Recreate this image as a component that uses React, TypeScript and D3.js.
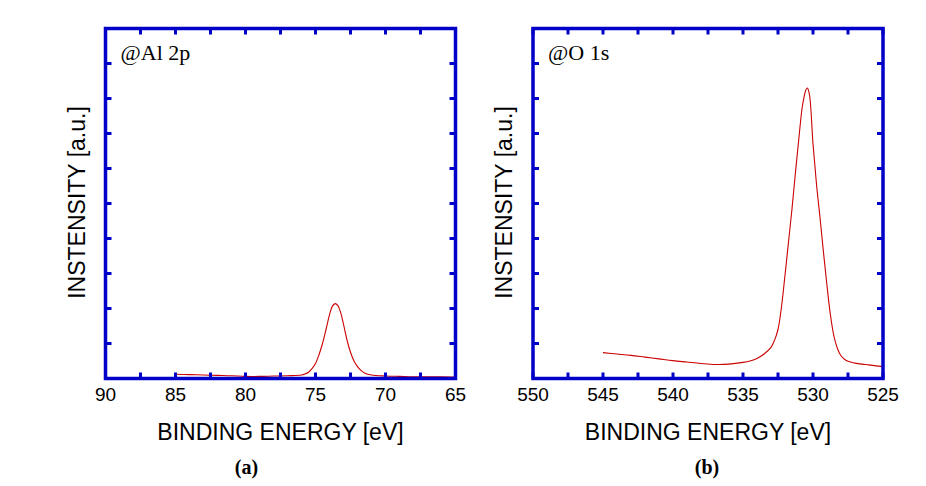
import React from 'react';
import * as d3 from 'd3';

// Al 2p spectrum
const alEnergy = [85, 84, 83, 82, 81, 80, 79, 78, 77, 76, 75.75, 75.5, 75.25, 75, 74.75, 74.5, 74.25, 74, 73.8, 73.6, 73.4, 73.2, 73, 72.75, 72.5, 72.25, 72, 71.75, 71.5, 71, 70, 69, 68, 67, 66, 65];
const alIntensity = [1.2, 1.1, 1.0, 0.9, 0.8, 0.6, 0.6, 0.7, 0.8, 1.0, 1.3, 1.8, 2.8, 4.3, 6.8, 10, 14, 18.2, 20.6, 21.4, 20.8, 18.8, 15.5, 11, 7.5, 5, 3.4, 2.3, 1.6, 1.0, 0.7, 0.6, 0.5, 0.5, 0.5, 0.4];

// O 1s spectrum
const oEnergy = [545, 544, 543, 542, 541, 540, 539, 538, 537, 536, 535, 534.5, 534, 533.5, 533, 532.75, 532.5, 532.25, 532, 531.75, 531.5, 531.25, 531, 530.75, 530.5, 530.4, 530.25, 530, 529.75, 529.5, 529.25, 529, 528.75, 528.5, 528.25, 528, 527.75, 527.5, 527, 526.5, 526, 525.5, 525];
const oIntensity = [7.4, 7.0, 6.6, 6.1, 5.6, 5.1, 4.7, 4.3, 4.0, 4.1, 4.6, 5.0, 5.7, 7.0, 8.9, 10.9, 14, 20.5, 29.5, 39, 48.5, 59, 69, 78, 82.5, 83, 81, 67, 55.5, 46, 36, 26.5, 18, 12, 8.5, 6.5, 5.5, 4.9, 4.4, 4.1, 3.9, 3.6, 3.4];

const alTickLabels = [90, 85, 80, 75, 70, 65];
const alMinorTicks = [90, 87.5, 85, 82.5, 80, 77.5, 75, 72.5, 70, 67.5, 65];
const oTickLabels = [550, 545, 540, 535, 530, 525];
const oMinorTicks = [550, 547.5, 545, 542.5, 540, 537.5, 535, 532.5, 530, 527.5, 525];
const yTicks = [10, 20, 30, 40, 50, 60, 70, 80, 90];

const BLUE = '#0000c8';
const RED = '#cc0000';
const W = 350;
const H = 350;
const TICK = 6;

type PanelProps = {
  left: number;
  top: number;
  domain: [number, number];
  energy: number[];
  intensity: number[];
  tickLabels: number[];
  minorTicks: number[];
  tag: string;
  caption: string;
  captionX: number;
};

const Panel = ({ left, top, domain, energy, intensity, tickLabels, minorTicks, tag, caption, captionX }: PanelProps) => {
  const x = d3.scaleLinear().domain(domain).range([0, W]);
  const y = d3.scaleLinear().domain([0, 100]).range([H, 0]);
  const pts = energy.map((e, i) => [e, intensity[i]] as [number, number]);
  const line = d3.line<[number, number]>()
    .x(d => x(d[0]))
    .y(d => y(d[1]))
    .curve(d3.curveCatmullRom.alpha(0.5));

  return (
    <g transform={`translate(${left},${top})`}>
      <path d={line(pts) || ''} fill='none' stroke={RED} strokeWidth={1.1} />
      {minorTicks.map(t => (
        <g key={'x' + t} stroke={BLUE} strokeWidth={3}>
          <line x1={x(t)} x2={x(t)} y1={H} y2={H - TICK} />
          <line x1={x(t)} x2={x(t)} y1={0} y2={TICK} />
        </g>
      ))}
      {yTicks.map(t => (
        <g key={'y' + t} stroke={BLUE} strokeWidth={3}>
          <line x1={0} x2={TICK} y1={y(t)} y2={y(t)} />
          <line x1={W} x2={W - TICK} y1={y(t)} y2={y(t)} />
        </g>
      ))}
      <rect x={0} y={0} width={W} height={H} fill='none' stroke={BLUE} strokeWidth={3.5} />
      {tickLabels.map(t => (
        <text key={'l' + t} x={x(t)} y={H + 22} textAnchor='middle'
          fontFamily='Liberation Sans, Arial, sans-serif' fontSize={19}>{t}</text>
      ))}
      <text x={15} y={31} fontFamily='Liberation Serif, Times New Roman, serif' fontSize={22}>{tag}</text>
      <text x={W / 2} y={H + 61} textAnchor='middle'
        fontFamily='Liberation Sans, Arial, sans-serif' fontSize={23}>BINDING ENERGY [eV]</text>
      <text transform={`translate(-21,${H / 2 - 1}) rotate(-90)`} textAnchor='middle'
        fontFamily='Liberation Sans, Arial, sans-serif' fontSize={23}>INSTENSITY [a.u.]</text>
      <text x={captionX} y={H + 95} textAnchor='middle' fontWeight='bold'
        fontFamily='Liberation Serif, Times New Roman, serif' fontSize={20}>{caption}</text>
    </g>
  );
};

export default function App() {
  return (
    <svg width={926} height={486} style={{ position: 'absolute', left: 0, top: 0, background: '#fff' }}>
      <Panel left={105.5} top={28.5} domain={[90, 65]} energy={alEnergy} intensity={alIntensity}
        tickLabels={alTickLabels} minorTicks={alMinorTicks} tag='@Al 2p' caption='(a)' captionX={141} />
      <Panel left={533} top={28.5} domain={[550, 525]} energy={oEnergy} intensity={oIntensity}
        tickLabels={oTickLabels} minorTicks={oMinorTicks} tag='@O 1s' caption='(b)' captionX={174} />
    </svg>
  );
}
